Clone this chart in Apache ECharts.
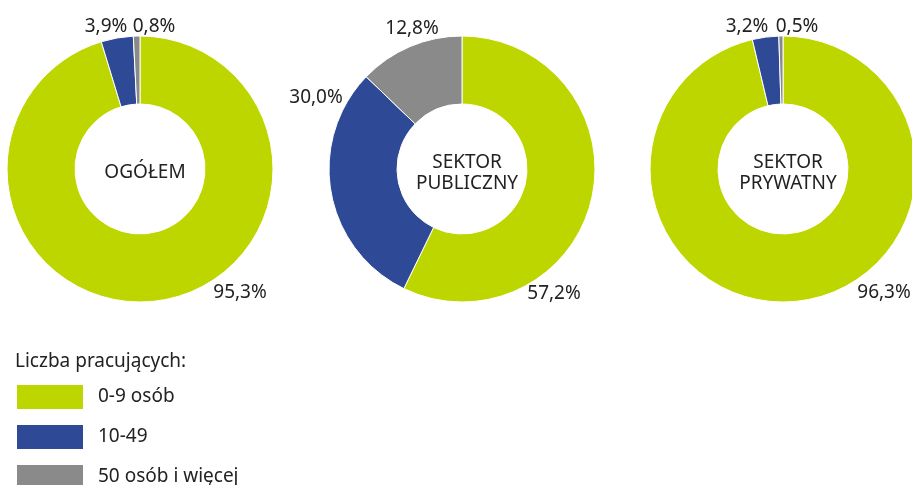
<!DOCTYPE html>
<html>
<head>
<meta charset="utf-8">
<script src="https://cdn.jsdelivr.net/npm/echarts@6/dist/echarts.min.js"></script>
<style>
  html, body { margin: 0; padding: 0; background: #fff; }
  #chart { width: 912px; height: 485px; }
</style>
</head>
<body>
<div id="chart"></div>
<script>
// data
var categories = ['0-9 osób', '10-49', '50 osób i więcej'];
var sectors = ['OGÓŁEM', 'SEKTOR\nPUBLICZNY', 'SEKTOR\nPRYWATNY'];
var ogolem = [95.3, 3.9, 0.8];
var publiczny = [57.2, 30.0, 12.8];
var prywatny = [96.3, 3.2, 0.5];
var legendTitle = 'Liczba pracujących:';

var colors = ['#bed600', '#2e4a96', '#8a8a8a'];
var font = '"Noto Sans", sans-serif';
var textColor = '#222';

// label anchor points (percentage text) for each pie
var labelPos = [
  [[240, 293], [106, 27], [154, 27]],
  [[554, 294], [316, 98], [412, 29]],
  [[884, 293], [747, 27], [797, 27]]
];
var centers = [[140, 169], [462, 169], [783, 169]];

function fmt(v) {
  return v.toFixed(1).replace('.', ',') + '%';
}

function makeSeries(values, idx) {
  return {
    name: sectors[idx],
    type: 'pie',
    center: centers[idx],
    radius: [65, 133],
    startAngle: 90,
    clockwise: true,
    avoidLabelOverlap: false,
    itemStyle: { borderColor: '#fff', borderWidth: 1 },
    label: {
      show: true,
      position: 'outside',
      formatter: function (p) { return fmt(p.value); },
      fontFamily: font,
      fontSize: 19,
      color: textColor
    },
    labelLine: { show: false },
    labelLayout: function (p) {
      var pt = labelPos[idx][p.dataIndex];
      return { x: pt[0], y: pt[1], align: 'center', verticalAlign: 'middle' };
    },
    emphasis: { disabled: true },
    data: categories.map(function (c, i) {
      return { name: c, value: values[i] };
    })
  };
}

var chart = echarts.init(document.getElementById('chart'));
chart.setOption({
  animation: false,
  color: colors,
  title: sectors.map(function (s, i) {
    return {
      text: s,
      left: centers[i][0],
      top: centers[i][1] - 1,
      textAlign: 'center',
      textVerticalAlign: 'middle',
      textStyle: {
        fontFamily: font,
        fontSize: 19,
        fontWeight: 'normal',
        color: textColor,
        lineHeight: 21
      }
    };
  }).concat([{
    text: legendTitle,
    left: 10,
    top: 347,
    textStyle: { fontFamily: font, fontSize: 19, fontWeight: 'normal', color: textColor }
  }]),
  legend: {
    orient: 'vertical',
    left: 15,
    top: 383,
    height: 120,
    padding: 0,
    itemWidth: 68,
    itemHeight: 26,
    itemGap: 12,
    icon: 'rect',
    selectedMode: false,
    data: categories,
    textStyle: {
      fontFamily: font,
      fontSize: 19,
      color: textColor,
      padding: [0, 0, 0, 9]
    }
  },
  series: [
    makeSeries(ogolem, 0),
    makeSeries(publiczny, 1),
    makeSeries(prywatny, 2)
  ]
});
</script>
</body>
</html>
